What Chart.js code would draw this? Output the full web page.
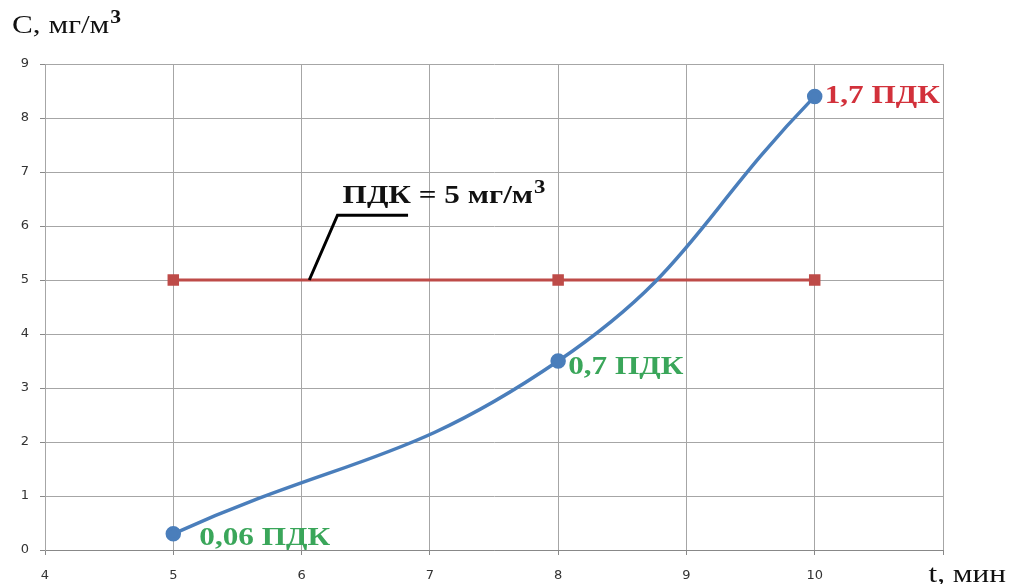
<!DOCTYPE html>
<html>
<head>
<meta charset="utf-8">
<script src="https://cdn.jsdelivr.net/npm/chart.js@4"></script>
<style>
body { margin: 0; background: #fff; }
#wrap { width: 1012px; height: 584px; position: relative; }
</style>
</head>
<body>
<div id="wrap"><canvas id="chart"></canvas></div>
<script>
// data
const tMinutes = [5, 8, 10]
const concentration = [0.3, 3.5, 8.4]
const pdkLevel = [5, 5, 5]
const pointNotes = ["0,06 ПДК", "0,7 ПДК", "1,7 ПДК"]
const xTicks = [4, 5, 6, 7, 8, 9, 10, 11]
const yTicks = [0, 1, 2, 3, 4, 5, 6, 7, 8, 9]

const serif = '"Liberation Serif", "DejaVu Serif", serif'
const stretch = 1.2 // the picture's text is a bit wide

// draws text stretched sideways, returns its drawn width
function wideText(ctx, txt, x, y) {
  ctx.save()
  ctx.translate(x, y)
  ctx.scale(stretch, 1)
  ctx.fillText(txt, 0, 0)
  ctx.restore()
  return ctx.measureText(txt).width * stretch
}

// text + leader line drawn in data coordinates
const notesPlugin = {
  id: "notes",
  afterDatasetsDraw(chart) {
    const ctx = chart.ctx
    const x = chart.scales.x
    const y = chart.scales.y
    ctx.save()

    // leader line to the ПДК line
    ctx.strokeStyle = "#000"
    ctx.lineWidth = 3
    ctx.beginPath()
    ctx.moveTo(x.getPixelForValue(6.06), y.getPixelForValue(5))
    ctx.lineTo(x.getPixelForValue(6.28), y.getPixelForValue(6.2))
    ctx.lineTo(x.getPixelForValue(6.83), y.getPixelForValue(6.2))
    ctx.stroke()

    ctx.textBaseline = "alphabetic"
    ctx.textAlign = "left"

    // ПДК = 5 мг/м3
    ctx.fillStyle = "#111"
    ctx.font = "bold 26px " + serif
    let px = x.getPixelForValue(6.32)
    let py = y.getPixelForValue(6.42)
    let w = wideText(ctx, "ПДК = 5 мг/м", px, py)
    ctx.font = "bold 19px " + serif
    wideText(ctx, "3", px + w + 1, py - 10)

    // point notes
    const colors = ["#3aa65a", "#3aa65a", "#d2313b"]
    ctx.font = "bold 26px " + serif
    ctx.textBaseline = "middle"
    pointNotes.forEach((txt, i) => {
      ctx.fillStyle = colors[i]
      const nx = x.getPixelForValue(tMinutes[i]) + (i === 0 ? 26 : 10)
      const ny = y.getPixelForValue(concentration[i]) + (i === 0 ? 4 : 6)
      wideText(ctx, txt, nx, i === 2 ? ny - 6 : ny)
    })

    // axis titles
    ctx.fillStyle = "#111"
    ctx.textBaseline = "alphabetic"
    ctx.font = "26px " + serif
    w = wideText(ctx, "C, мг/м", 12, 33)
    ctx.font = "bold 18px " + serif
    wideText(ctx, "3", 12 + w + 1, 23)
    ctx.font = "26px " + serif
    const tw = ctx.measureText("t, мин").width * stretch
    wideText(ctx, "t, мин", 1006 - tw, 582)
    ctx.restore()
  }
}

new Chart(document.getElementById("chart"), {
  type: "line",
  data: {
    datasets: [
      {
        label: "C",
        data: tMinutes.map((t, i) => ({ x: t, y: concentration[i] })),
        borderColor: "#4a7ebb",
        backgroundColor: "#4a7ebb",
        borderWidth: 3.5,
        pointRadius: 6,
        pointStyle: "circle",
        tension: 0.45
      },
      {
        label: "ПДК",
        data: tMinutes.map((t, i) => ({ x: t, y: pdkLevel[i] })),
        borderColor: "#be4b48",
        backgroundColor: "#be4b48",
        borderWidth: 3,
        pointRadius: 6,
        pointStyle: "rect",
        tension: 0
      }
    ]
  },
  options: {
    responsive: true,
    maintainAspectRatio: false,
    animation: false,
    layout: { padding: { top: 64, right: 69, left: 0, bottom: 0 } },
    plugins: { legend: { display: false }, tooltip: { enabled: false } },
    scales: {
      x: {
        type: "linear",
        min: xTicks[0],
        max: xTicks[xTicks.length - 1],
        afterBuildTicks: s => { s.ticks = xTicks.map(v => ({ value: v })) },
        afterFit: s => { s.height = 34 },
        grid: { color: "#a6a6a6", tickLength: 5, tickColor: "#888" },
        border: { color: "#888" },
        ticks: {
          padding: 13,
          color: "#333",
          font: { family: '"DejaVu Sans"', size: 13 },
          callback: v => (v === 11 ? "" : v)
        }
      },
      y: {
        min: yTicks[0],
        max: yTicks[yTicks.length - 1],
        afterBuildTicks: s => { s.ticks = yTicks.map(v => ({ value: v })) },
        afterFit: s => { s.width = 45 },
        grid: { color: "#a6a6a6", tickLength: 5, tickColor: "#888" },
        border: { color: "#a6a6a6" },
        ticks: {
          padding: 11,
          color: "#333",
          font: { family: '"DejaVu Sans"', size: 13 }
        }
      }
    }
  },
  plugins: [notesPlugin]
})
</script>
</body>
</html>
